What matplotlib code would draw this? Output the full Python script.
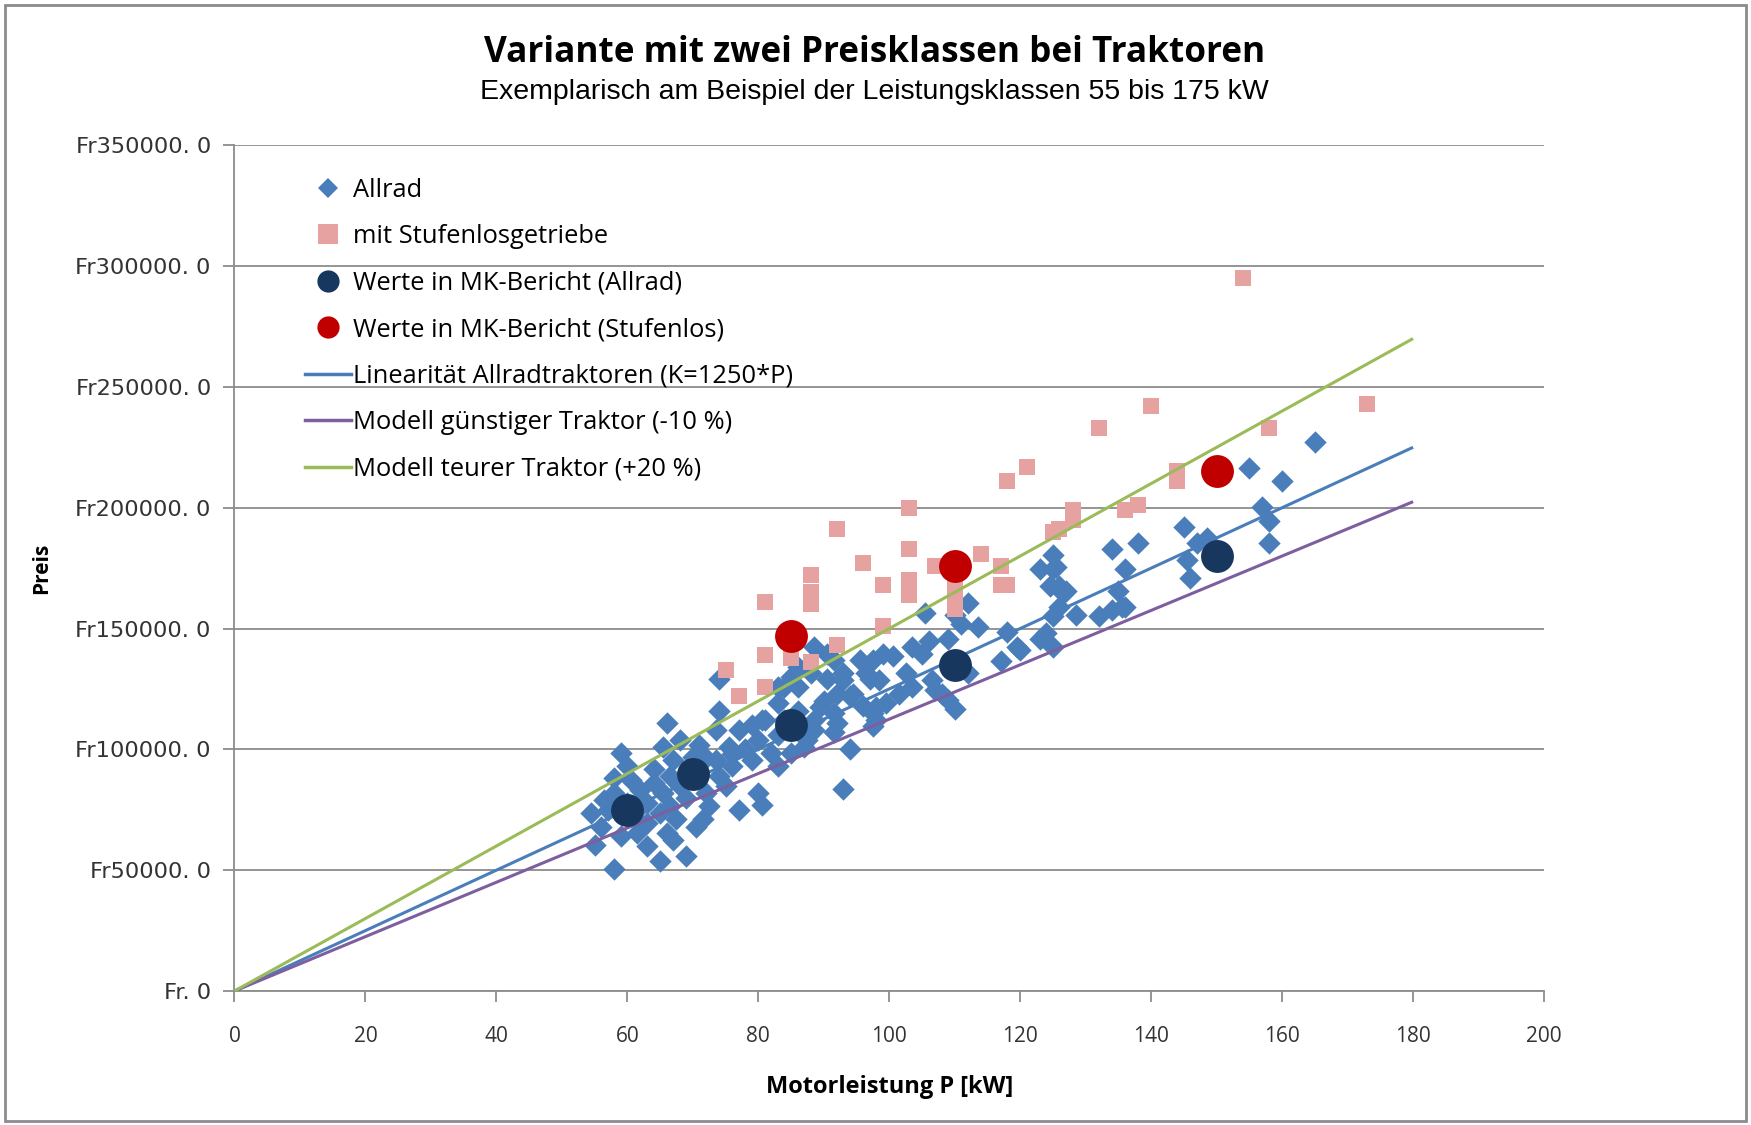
import matplotlib
matplotlib.use('Agg')
import matplotlib.pyplot as plt
from matplotlib.lines import Line2D
from matplotlib.patches import Rectangle

# Allrad tractors: power [kW], price [kFr]
allrad_kw = [55, 54.5, 56, 56.5, 58, 58, 59, 59, 60, 60.5, 61.5, 62, 63, 65, 65, 65.5, 65.5, 66, 66, 66.5,
             66.5, 67, 67, 67.5, 69, 70.5, 71, 71.5, 72, 72, 72.5, 73.5, 73.5, 74, 74, 74, 75.5, 76, 77, 78,
             79, 80, 80.5, 80, 81, 82, 83, 83, 84, 85, 85, 86, 87, 87.5, 88.5, 88.5, 88.5, 89.5, 90.5, 91.5,
             92, 92, 93, 93, 94, 94.5, 95.5, 97, 98,
             57, 61, 63, 64, 68, 69, 70, 75, 77, 79, 83, 86, 63, 68, 62, 69, 76, 84, 90, 96, 60, 64, 58,
             91.5, 90.5, 93, 94, 91.5, 88, 86, 83, 80.5,
             96.5, 97.5, 97.5, 97.5, 98, 98.5, 99, 99.5, 100.5, 101.5, 102.5, 103.5, 103.5, 105, 105.5, 106,
             106.5, 107, 108, 109, 109, 110, 110, 111, 112, 112, 113.5, 117, 118, 119.5, 120, 123, 123, 124,
             124.5, 125, 125, 125, 125, 125.5, 126, 126, 126.5, 127, 128.5, 132, 134, 134, 135, 135.5, 136,
             136, 138, 145, 145.5, 146, 147, 148.5, 155, 157, 158, 158, 160, 165]
allrad_price = [60.5, 73.5, 68, 79, 50.5, 82, 64, 98.5, 93, 87.5, 65.5, 83, 69.5, 54, 73.5, 101, 82, 111, 65.5, 89,
                76.5, 95.5, 62.5, 71, 56, 68, 102, 71, 96.5, 82, 76.5, 108, 95.5, 116, 129, 89, 101, 93, 75, 100,
                95.5, 82, 77, 104, 112, 98.5, 119, 93, 126, 130, 98.5, 134, 101, 104, 112, 108, 142.5, 117.5, 129, 107,
                123, 111, 131.5, 83.5, 100, 123, 137, 129, 112,
                75, 72, 78, 92, 85, 80, 97, 85, 108, 110, 106, 116, 60, 104, 76, 90, 98, 112, 120, 118, 78, 86, 88,
                137, 139.5, 128.5, 122, 115, 131.5, 126, 126, 112,
                131.5, 137, 115, 109.5, 117.5, 128.5, 139.5, 119, 138.5, 123, 131.5, 142.5, 126, 139.5, 156.5, 145,
                128.5, 124.5, 123, 145.5, 120.5, 155.5, 116.5, 152, 131.5, 160.5, 150.5, 136.5, 148.5, 142.5, 141, 145.5, 174.5, 148,
                167.5, 180.5, 174.5, 155, 142.5, 175.5, 167.5, 159, 164.5, 165.5, 155.5, 155, 183, 157.5, 165.5, 159, 174.5,
                159, 185.5, 192, 178.5, 171, 185.5, 187.5, 216.5, 200.5, 194.5, 185.5, 211, 227]

# tractors with continuously variable transmission
stufenlos_kw = [75, 77, 81, 81, 81, 85, 88, 88, 88, 88, 92, 92, 96, 99, 99, 103, 103, 103, 103, 107, 110, 110,
                110, 114, 117, 117, 118, 118, 121, 125, 126, 128, 128, 132, 136, 138, 140, 144, 144, 154, 158, 173]
stufenlos_price = [133, 122, 161, 139, 126, 138, 172, 165, 160, 136, 191, 143, 177, 168, 151, 200, 183, 170, 164,
                   176, 167, 162, 158, 181, 176, 168, 211, 168, 217, 190, 191, 199, 195, 233, 199, 201, 242, 215,
                   211, 295, 233, 243]

# values used in the MK report
mk_allrad_kw = [60, 70, 85, 110, 150]
mk_allrad_price = [75, 90, 110, 135, 180]
mk_stufenlos_kw = [85, 110, 150]
mk_stufenlos_price = [147, 176, 215]

# model lines K = 1250 * P and variants
line_kw = [0, 180]
k_factor = 1250
model_factors = [1.0, 0.9, 1.2]

y_ticks = [0, 50000, 100000, 150000, 200000, 250000, 300000, 350000]
y_tick_labels = ['Fr. 0', 'Fr50000. 0', 'Fr100000. 0', 'Fr150000. 0', 'Fr200000. 0',
                 'Fr250000. 0', 'Fr300000. 0', 'Fr350000. 0']
x_ticks = [0, 20, 40, 60, 80, 100, 120, 140, 160, 180, 200]

labels = ['Allrad', 'mit Stufenlosgetriebe', 'Werte in MK-Bericht (Allrad)',
          'Werte in MK-Bericht (Stufenlos)', 'Linearität Allradtraktoren (K=1250*P)',
          'Modell günstiger Traktor (-10 %)', 'Modell teurer Traktor (+20 %)']

c_blue = '#4A7EBB'
c_pink = '#E6A2A0'
c_navy = '#17375E'
c_red = '#C00000'
c_lin = '#4A7EBB'
c_purple = '#7D5FA0'
c_green = '#9BBB59'

plt.rcParams['font.family'] = ['Open Sans', 'DejaVu Sans']

fig = plt.figure(figsize=(17.51, 11.25), dpi=100)
ax = fig.add_axes([0.1339, 0.1191, 0.7479, 0.7518])

ax.scatter(allrad_kw, [v * 1000 for v in allrad_price], marker='D', s=130, color=c_blue,
           linewidths=0, zorder=3)
ax.scatter(stufenlos_kw, [v * 1000 for v in stufenlos_price], marker='s', s=145, color=c_pink,
           linewidths=0, zorder=3)
line_colors = [c_lin, c_purple, c_green]
for f, col in zip(model_factors, line_colors):
    ax.plot(line_kw, [k_factor * f * x for x in line_kw], color=col, lw=2.2, zorder=4,
            solid_capstyle='butt')
ax.scatter(mk_allrad_kw, [v * 1000 for v in mk_allrad_price], marker='o', s=560, color=c_navy,
           linewidths=0, zorder=5)
ax.scatter(mk_stufenlos_kw, [v * 1000 for v in mk_stufenlos_price], marker='o', s=560, color=c_red,
           linewidths=0, zorder=5)

ax.set_xlim(0, 200)
ax.set_ylim(0, 350000)
ax.set_yticks(y_ticks)
ax.set_yticklabels(y_tick_labels, fontsize=16.2, family='DejaVu Sans')
ax.set_xticks(x_ticks)
ax.grid(axis='y', color='#8C8C8C', lw=1.3)
ax.set_axisbelow(True)
for side in ['top', 'right']:
    ax.spines[side].set_visible(False)
for side in ['left', 'bottom']:
    ax.spines[side].set_color('#8C8C8C')
    ax.spines[side].set_linewidth(1.3)
ax.tick_params(axis='both', direction='out', length=8, width=1.3, color='#8C8C8C',
               labelcolor='#333333')
ax.tick_params(axis='x', labelsize=15, pad=17)
ax.tick_params(axis='y', pad=9)

ax.set_xlabel('Motorleistung P [kW]', fontsize=17, fontweight='bold', labelpad=20)
ax.set_ylabel('Preis', fontsize=15, fontweight='bold', labelpad=17)

fig.text(0.4994, 0.953, 'Variante mit zwei Preisklassen bei Traktoren', ha='center', va='center',
         fontsize=25.3, fontweight='bold')
fig.text(0.4994, 0.918, 'Exemplarisch am Beispiel der Leistungsklassen 55 bis 175 kW', ha='center',
         va='center', fontsize=20.5, family='Liberation Sans')

handles = [
    Line2D([], [], ls='none', marker='D', ms=10, color=c_blue, mew=0),
    Line2D([], [], ls='none', marker='s', ms=14, color=c_pink, mew=0),
    Line2D([], [], ls='none', marker='o', ms=16, color=c_navy, mew=0),
    Line2D([], [], ls='none', marker='o', ms=16, color=c_red, mew=0),
    Line2D([], [], color=c_lin, lw=2.5),
    Line2D([], [], color=c_purple, lw=2.5),
    Line2D([], [], color=c_green, lw=2.5),
]
ax.legend(handles, labels, loc='upper left', bbox_to_anchor=(0.0538, 0.9615), frameon=False,
          fontsize=18.4, handlelength=1.8, handletextpad=0.1, labelspacing=0.84, borderpad=0,
          borderaxespad=0)

fig.patches.append(Rectangle((0.003, 0.004), 0.994, 0.992, transform=fig.transFigure,
                             fill=False, edgecolor='#8C8C8C', lw=2))

fig.savefig('out.png', dpi=100)
